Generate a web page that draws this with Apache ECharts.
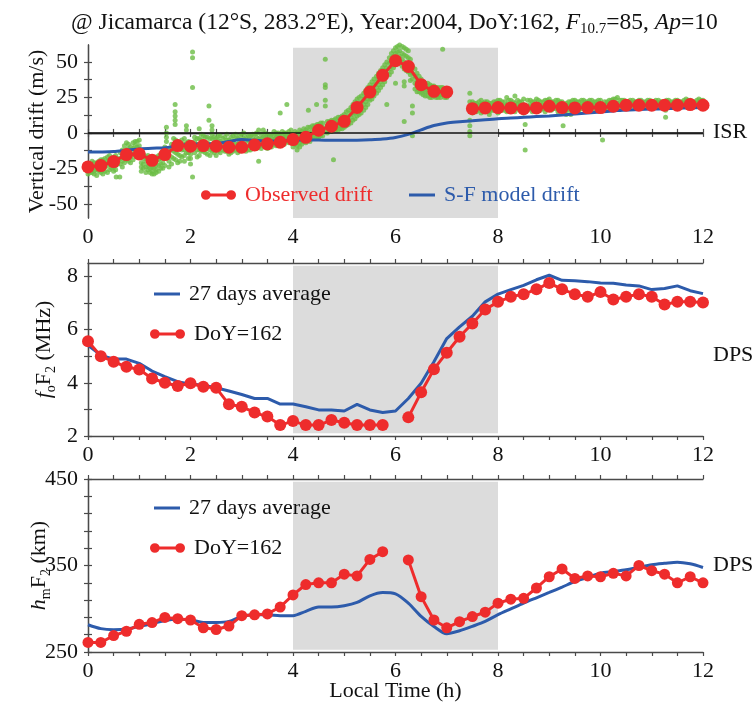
<!DOCTYPE html>
<html>
<head>
<meta charset="utf-8">
<title>Jicamarca drift and F2 layer, DoY 162, 2004</title>
<script src="https://cdn.jsdelivr.net/npm/echarts@6/dist/echarts.min.js"></script>
<style>
  html, body { margin: 0; padding: 0; background: #fff; }
  #chart { width: 755px; height: 708px; }
</style>
</head>
<body>
<div id="chart"></div>
<script>
// ---- local time grid (h), every 15 min ----
const hours = [0,0.25,0.5,0.75,1,1.25,1.5,1.75,2,2.25,2.5,2.75,3,3.25,3.5,3.75,4,4.25,4.5,4.75,5,5.25,5.5,5.75,6,6.25,6.5,6.75,7,7.25,7.5,7.75,8,8.25,8.5,8.75,9,9.25,9.5,9.75,10,10.25,10.5,10.75,11,11.25,11.5,11.75,12];

// ---- vertical drift (m/s) ----
const observedDrift = [-24,-23,-20.2,-15.3,-14.8,-19.3,-15.3,-8.9,-9.4,-8.9,-9.4,-10.1,-10.1,-8.5,-7.7,-6.6,-4.7,-3.1,1.9,4.7,8.2,18,28.8,40.6,50.9,46.9,34,29.3,28.9,null,17.1,17.6,17.9,17.6,17.1,17.6,18.8,17.9,17.6,17.9,17.9,18.8,19.5,19.5,19.5,19.5,19.5,20,19.5];
const modelDrift = [-13.5,-13.4,-13.1,-12.2,-11.3,-10.8,-10.5,-9,-8,-7.8,-7.5,-6,-4.6,-5.2,-5.8,-5.6,-5,-5,-5,-5.2,-5.2,-5.1,-4.8,-4.3,-3.2,-1,2.2,5.2,7,7.8,8.5,9.3,10,10.5,11,11.5,12,12.6,13.3,14,14.8,15.5,16.2,16.5,16.8,17.1,17.4,17.7,18];

// ISR drift samples: each row is [local time, drifts at the measured heights...]
const isrRows = [
  [0.00,-22,-25,-27,-29],[0.08,-20,-24,-26,-28],[0.17,-21,-23,-26,-30],[0.25,-19,-22,-25,-28],
  [0.33,-18,-21,-24,-27],[0.42,-16,-19,-22,-26],[0.50,-17,-20,-24,-27],[0.55,-31],[0.58,-18,-22],
  [0.62,-31],[0.67,-12,-16,-20,-24],[0.75,-7,-12,-15,-19],[0.83,-10,-14,-17,-21],[0.92,-6,-9,-13,-16],
  [1.00,-5,-9,-12,-17],[1.08,-15,-18,-22,-25],[1.17,-16,-19,-23,-26],[1.25,-18,-21,-24,-27,-29],
  [1.33,-17,-20,-23,-26,-28],[1.42,-15,-18,-22,-25],[1.50,-10,-14,-18,-23],[1.53,4,0,-3,-6],
  [1.58,-12,-16,-20,-24],[1.67,-4,-8,-13,-18],[1.70,20,15,12,9,6],[1.75,-6,-10,-15,-21],
  [1.83,-5,-9,-12,-17],[1.92,5,2,-7,-10,-14],[2.00,-8,-11,-15,-18,-22],[2.04,57,53,32,-31],
  [2.08,-3,-6,-10,-14],[2.17,3,-4,-8,-12,-16],[2.25,-2,-6,-9,-13],[2.33,-3,-7,-11,-15],[2.36,19,9],
  [2.42,5,2,-1,-4,-9,-13],[2.50,-4,-8,-12,-16],[2.58,-2,-6,-10,-14],[2.67,-3,-7,-11,-13],
  [2.75,-5,-9,-12,-15],[2.83,-2,-6,-10,-13],[2.92,-4,-8,-11,-14],[3.00,-1,-5,-9,-12],
  [3.08,-3,-6,-10,-13],[3.17,-2,-6,-9,-12],[3.25,-1,-5,-8,-11],[3.33,2,-4,-7,-10,-20],
  [3.42,2,-3,-6,-9],[3.50,-2,-5,-8,-11],[3.58,-1,-4,-7,-10],[3.67,0,-3,-6,-9],[3.75,14,-1,-4,-7],
  [3.83,0,-3,-5,-8],[3.88,20],[3.92,1,-2,-4,-7],[4.00,-1,-4,-7,-10],[4.08,0,-3,-6,-9,-12],
  [4.17,1,-2,-5,-8],[4.25,2,-1,-4,-7],[4.30,16],[4.33,4,0,-3,-6],[4.42,5,2,-1,-4],[4.46,20],
  [4.50,6,3,0,-3],[4.58,7,4,1,-2],[4.63,52,34,32,23,19],[4.67,8,5,2,0],[4.75,9,6,3,1],[4.79,-19],
  [4.83,10,7,4,2],[4.92,11,8,5,3],[5.00,13,10,7,4],[5.08,16,12,9,6],[5.17,20,16,13,9],
  [5.25,24,20,16,12],[5.33,26,22,18,14],[5.42,30,26,22,18],[5.50,34,30,27,23],[5.58,38,34,30,26],
  [5.67,42,38,34,30],[5.75,46,42,38,34],[5.83,50,46,42,20],[5.92,56,51,47,43],[6.00,60,56,52,48,35],
  [6.08,62,58,54,50],[6.17,60,55,50,45,36,33,8],[6.25,58,53,48,43],[6.33,47,42,38,19,14,-2],
  [6.42,42,37,33,29],[6.50,38,34,31,28],[6.58,35,32,29,26],[6.67,34,31,28,25],[6.75,33,30,28,26],
  [6.83,32,30,27,25],[6.92,32,29,27,59],[7.00,31,29,27,25],
  [7.45,28,22,9,5,1,-2],[7.50,22,19,16,14],[7.58,21,18,15],[7.67,23,20,17,14],[7.75,22,19,16],
  [7.83,21,18,15,13],[7.92,22,19,16],[8.00,23,20,17,14],[8.08,22,19,16],[8.17,25,20,17,15],
  [8.25,23,19,16],[8.33,26,21,18,15],[8.42,22,19,16],[8.50,24,20,17,14],[8.53,6,-12],
  [8.58,23,19,16],[8.67,22,19,17,15],[8.75,24,20,17],[8.83,22,19,16],[8.92,23,20,17,15],
  [9.00,24,20,18],[9.08,22,19,17],[9.17,23,20,17,15],[9.25,22,19,16],[9.27,5],[9.33,21,19,16,13],
  [9.42,22,20,17,13],[9.50,23,20,17],[9.58,22,19,16],[9.67,23,20,18],[9.75,22,19,17],
  [9.83,23,20,18],[9.92,22,19,17],[10.00,23,20,18,16],[10.04,-5],[10.08,22,19,17],[10.17,23,20,18],
  [10.25,24,21,18],[10.33,25,21,19,17],[10.42,23,20,18],[10.50,22,20,18],[10.58,23,21,19],
  [10.67,22,20,18],[10.75,23,21,19],[10.83,22,20,18],[10.92,23,21,19],[11.00,22,20,19],
  [11.08,23,21,19],[11.17,22,20,18],[11.27,16,11],[11.33,23,21,19],[11.42,22,20,19],
  [11.50,23,21,20],[11.58,22,21,19],[11.67,24,21,19],[11.75,23,21,20],[11.83,22,20,19],
  [11.92,24,21,19],[12.00,23,21,20],
  // in-between profiles
  [0.04,-23,-26,-28],[0.12,-21,-24,-27,-29],[0.21,-20,-23,-27],[0.29,-19,-22,-26,-29],
  [0.38,-17,-20,-23,-28],[0.46,-18,-21,-25],[0.54,-16,-19,-23,-26],[0.63,-14,-18,-22],
  [0.71,-9,-13,-17,-21],[0.79,-8,-11,-16,-20],[0.88,-7,-11,-15,-19],[0.96,-6,-10,-14],
  [1.04,-14,-17,-21,-24,-27],[1.13,-17,-20,-24,-28],[1.21,-19,-22,-25,-28],[1.29,-18,-22,-25,-29],
  [1.38,-16,-19,-23,-27],[1.46,-13,-17,-21,-25],[1.63,-8,-12,-17,-22],[1.71,-5,-9,-14,-19],
  [1.79,-7,-11,-16,-20],[1.88,-4,-8,-12,-16,-20],[1.96,-6,-10,-14,-18],[2.13,-4,-8,-12,-17],
  [2.21,-1,-5,-9,-13],[2.29,-3,-7,-11,-14],[2.38,-4,-8,-12,-16],[2.46,-3,-7,-11,-14],
  [2.54,-2,-5,-9,-13],[2.63,-4,-8,-12],[2.71,-1,-5,-9,-13],[2.79,-3,-7,-11,-14],
  [2.88,-1,-4,-8,-12],[2.96,-2,-6,-10,-13],[3.04,0,-4,-8,-11],[3.13,-2,-5,-9,-12],
  [3.21,-1,-4,-7,-10],[3.29,0,-3,-7,-11],[3.38,-1,-4,-8,-11],[3.46,0,-3,-7,-10],
  [3.54,-1,-4,-7,-9],[3.63,1,-2,-5,-8],[3.71,0,-3,-6,-9],[3.79,1,-2,-5,-8],[3.87,0,-3,-6],
  [3.96,2,-1,-4,-7],[4.04,1,-2,-5,-8],[4.13,2,-1,-4,-7,-10],[4.21,3,0,-3,-6],[4.29,4,1,-2,-5],
  [4.38,5,2,-1,-4],[4.47,6,3,0,-3],[4.54,7,4,1,-2],[4.71,8,5,2],[4.80,9,6,3],[4.88,11,8,5,2],
  [4.96,12,9,6,3],[5.04,15,11,8,5],[5.13,18,14,11,7],[5.21,22,18,14,10],[5.29,25,21,17,13],
  [5.38,28,24,20,16],[5.46,32,28,24,20],[5.54,36,32,28,24],[5.63,40,36,32,28],[5.71,44,40,36,32],
  [5.79,48,44,40,36],[5.88,53,49,45,41],[5.96,58,54,50,46],[6.04,61,57,53,49],[6.13,61,56,52,47],
  [6.21,59,54,49,44],[6.29,52,46,41,37],[6.38,45,40,35,31],[6.46,40,36,32,29],[6.54,36,33,30,27],
  [6.63,35,32,29,26],[6.71,33,30,27,25],[6.79,32,30,28,25],[6.88,32,29,27,25],[6.96,31,29,26,25],
  [7.54,21,18,15],[7.63,22,19,16],[7.71,21,18,15],[7.79,22,19,16],[7.88,21,18,16],[7.96,22,19,16],
  [8.04,23,19,16],[8.13,22,19,16],[8.21,23,19,16],[8.29,22,19,17],[8.38,23,20,17],[8.46,22,19,16],
  [8.63,23,20,17],[8.71,22,19,16],[8.79,23,20,17],[8.88,22,19,17],[8.96,23,20,17],[9.04,22,19,16],
  [9.13,23,20,17],[9.21,22,19,16],[9.38,22,19,16],[9.46,23,20,17],[9.54,22,19,17],[9.63,23,20,17],
  [9.71,22,19,17],[9.79,23,20,18],[9.88,22,20,17],[9.96,23,20,18],[10.13,22,20,17],[10.21,23,20,18],
  [10.29,24,21,18],[10.38,23,20,18],[10.46,23,21,18],[10.54,22,20,18],[10.63,23,21,19],[10.71,22,20,18],
  [10.79,23,21,19],[10.88,22,20,18],[10.96,23,21,19],[11.04,22,20,19],[11.13,23,21,19],[11.21,22,20,18],
  [11.29,23,21,19],[11.38,22,20,19],[11.46,23,21,20],[11.54,22,21,19],[11.63,23,21,19],[11.71,23,21,20],
  [11.79,22,20,19],[11.88,23,21,19],[11.96,23,21,20]
];

// ---- foF2 (MHz) ----
const foF2Day = [5.56,5.0,4.79,4.6,4.5,4.16,4.0,3.88,3.98,3.85,3.81,3.19,3.1,2.88,2.73,2.41,2.56,2.41,2.41,2.6,2.5,2.41,2.41,2.41,null,2.7,3.64,4.51,5.13,5.73,6.23,6.75,7.04,7.23,7.33,7.51,7.75,7.51,7.33,7.23,7.41,7.13,7.23,7.33,7.23,6.94,7.04,7.04,7.02];
const foF2Avg = [5.41,5.04,4.89,4.89,4.73,4.44,4.23,4.04,3.95,3.91,3.81,3.69,3.56,3.41,3.41,3.2,3.2,3.1,2.98,2.98,2.94,3.19,2.98,2.88,2.94,3.41,3.98,4.79,5.66,6.1,6.5,7.04,7.33,7.5,7.66,7.87,8.04,7.85,7.83,7.8,7.75,7.74,7.67,7.64,7.5,7.54,7.64,7.46,7.35];

// ---- hmF2 (km) ----
const hmF2Day = [261,261,269,274,282,284,290,288.5,287,278,276,280,292,293,294,302,316,328,330,330,340,338,357,366,null,356.5,314,287,278,285,291,296,306.5,311,312,324,337,346,335,338,337,341,338,350,344,340,330,337,330];
const hmF2Avg = [281.5,277,275.8,276.5,279.6,282.7,286.5,288,287.3,284.2,284.2,285.4,291.2,293.1,293.1,292,292,297,302,302,303.5,307.3,315,318.8,317.3,306.5,291.2,279.6,271.2,274.5,279.7,285.4,293.1,299.8,306.5,312.7,318.8,325,331.5,336.3,341.2,343,345,348,350.8,352.5,353.9,352,347.7];

// ---- axis ticks / labels ----
const timeLabels = [0,2,4,6,8,10,12];
const timeTicks = [0,0.5,1,1.5,2,2.5,3,3.5,4,4.5,5,5.5,6,6.5,7,7.5,8,8.5,9,9.5,10,10.5,11,11.5,12];
const driftLabels = [-50,-25,0,25,50];
const driftTicks = [-50,-37.5,-25,-12.5,0,12.5,25,37.5,50];
const foF2Labels = [2,4,6,8];
const foF2Ticks = [2,3,4,5,6,7,8];
const hmF2Labels = [250,350,450];
const hmF2Ticks = [250,270,290,310,330,350,370,390,410,430,450];

// shaded sunrise window (h)
const sunriseWindow = [4, 8];

// ---------------------------------------------------------------
const FONT = 'Liberation Serif';
const FS = 22;
const RED = '#ee2c2c';
const BLUE = '#2d5bab';
const GREEN = '#6cbd45';
const FRAME = '#4a4a4a';

const pairs = (xs, ys) => xs.map((x, i) => [x, ys[i] == null ? '-' : ys[i]]);
const isrPoints = [];
isrRows.forEach(row => row.slice(1).forEach(v => isrPoints.push([row[0], v])));

const richFor = size => ({
  i:   { fontFamily: FONT, fontSize: size, fontStyle: 'italic', lineHeight: 28 },
  sub: { fontFamily: FONT, fontSize: Math.round(size * 0.64), lineHeight: 14, verticalAlign: 'bottom' }
});

const grids = [
  { left: 88, right: 52, top: 45,  height: 173 },
  { left: 88, right: 52, top: 263, height: 173 },
  { left: 88, right: 52, top: 479, height: 173 }
];

const tickStyle = { show: true, inside: false, length: 4, lineStyle: { color: FRAME, width: 1.2 } };
const lineStyleFrame = { show: true, lineStyle: { color: FRAME, width: 1.3 } };

const xAxes = [];
grids.forEach((g, i) => {
  xAxes.push({
    type: 'value', gridIndex: i, min: 0, max: 12, position: 'bottom',
    axisLine: lineStyleFrame,
    axisTick: Object.assign({ customValues: timeTicks }, tickStyle),
    axisLabel: { customValues: timeLabels, fontFamily: FONT, fontSize: FS, color: '#111', margin: 8 },
    splitLine: { show: false },
    name: i === 2 ? 'Local Time (h)' : '',
    nameLocation: 'middle', nameGap: 28, nameMoveOverlap: false,
    nameTextStyle: { fontFamily: FONT, fontSize: FS, color: '#111' }
  });
  xAxes.push({
    type: 'value', gridIndex: i, min: 0, max: 12, position: 'top',
    axisLine: lineStyleFrame,
    axisTick: Object.assign({ customValues: timeTicks }, tickStyle),
    axisLabel: { show: false }, splitLine: { show: false }
  });
});

const yDefs = [
  { min: -60, max: 62, labels: driftLabels, ticks: driftTicks,
    name: 'Vertical drift (m/s)', gap: 37 },
  { min: 2, max: 8.5, labels: foF2Labels, ticks: foF2Ticks,
    name: '{i|f}{sub|o}F{sub|2} (MHz)', gap: 30 },
  { min: 250, max: 450, labels: hmF2Labels, ticks: hmF2Ticks,
    name: '{i|h}{sub|m}F{sub|2} (km)', gap: 35 }
];
const yAxes = [];
yDefs.forEach((d, i) => {
  yAxes.push({
    type: 'value', gridIndex: i, min: d.min, max: d.max, position: 'left',
    axisLine: lineStyleFrame,
    axisTick: Object.assign({ customValues: d.ticks }, tickStyle),
    axisLabel: { customValues: d.labels, fontFamily: FONT, fontSize: FS, color: '#111', margin: 10 },
    splitLine: { show: false },
    name: d.name, nameLocation: 'middle', nameRotate: 90, nameGap: d.gap, nameMoveOverlap: false,
    nameTextStyle: { fontFamily: FONT, fontSize: FS, color: '#111', lineHeight: 28, rich: richFor(FS) }
  });
  yAxes.push({
    type: 'value', gridIndex: i, min: d.min, max: d.max, position: 'right',
    axisLine: lineStyleFrame,
    axisTick: Object.assign({ customValues: d.ticks }, tickStyle),
    axisLabel: { show: false }, splitLine: { show: false }
  });
});

// shading bounds in each panel's own units
const shadeY = [[-60, 60], [2.1, 8.4], [252.7, 446.9]];
const shadeSeries = shadeY.map((b, i) => ({
  type: 'line', xAxisIndex: 2 * i, yAxisIndex: 2 * i, data: [], silent: true, z: 1,
  markArea: {
    silent: true,
    itemStyle: { color: '#dcdcdc' },
    data: [[{ xAxis: sunriseWindow[0], yAxis: b[0] }, { xAxis: sunriseWindow[1], yAxis: b[1] }]]
  }
}));

const redLine = (name, xi, yi, data, size) => ({
  name: name, type: 'line', xAxisIndex: xi, yAxisIndex: yi, data: data,
  connectNulls: false, symbol: 'circle', symbolSize: size, showSymbol: true,
  lineStyle: { color: RED, width: 3 }, itemStyle: { color: RED }, z: 5, clip: true
});
const blueLine = (name, xi, yi, data, smooth) => ({
  name: name, type: 'line', xAxisIndex: xi, yAxisIndex: yi, data: data,
  showSymbol: false, smooth: smooth, lineStyle: { color: BLUE, width: 3 },
  itemStyle: { color: BLUE }, z: 4
});

const series = shadeSeries.concat([
  {
    name: 'ISR', type: 'scatter', xAxisIndex: 0, yAxisIndex: 0, data: isrPoints,
    symbolSize: 5, itemStyle: { color: GREEN }, z: 3,
    markLine: {
      silent: true, symbol: 'none', label: { show: false },
      lineStyle: { color: '#111', width: 1.5, type: 'solid' },
      data: [{ yAxis: 0 }]
    }
  },
  blueLine('S-F model drift', 0, 0, pairs(hours, modelDrift), 0.3),
  redLine('Observed drift', 0, 0, pairs(hours, observedDrift), 13),
  blueLine('27 days average', 2, 2, pairs(hours, foF2Avg), false),
  redLine('DoY=162', 2, 2, pairs(hours, foF2Day), 12),
  blueLine('27 days average', 4, 4, pairs(hours, hmF2Avg), 0.3),
  redLine('DoY=162', 4, 4, pairs(hours, hmF2Day), 11)
]);

// dumbbell icon: line with a dot at each end
const dumbbell = 'path://M0,5A5,5,0,1,1,10,5A5,5,0,1,1,0,5Z M26,5A5,5,0,1,1,36,5A5,5,0,1,1,26,5Z M5,3.5H31V6.5H5Z';
const legendItem = (name, left, top, icon, w, h, color) => ({
  left: left, top: top, orient: 'horizontal', selectedMode: false,
  data: [name], icon: icon, itemWidth: w, itemHeight: h, itemGap: 0,
  textStyle: { fontFamily: FONT, fontSize: FS, color: color, padding: [0, 0, 0, 4] }
});

const option = {
  backgroundColor: '#fff',
  animation: false,
  title: {
    text: '@ Jicamarca (12°S, 283.2°E), Year:2004, DoY:162, {i|F}{sub|10.7}=85, {i|Ap}=10',
    left: 66, top: 4,
    textStyle: { fontFamily: FONT, fontSize: 23.5, fontWeight: 'normal', color: '#111', lineHeight: 28, rich: richFor(23.5) }
  },
  grid: grids,
  xAxis: xAxes,
  yAxis: yAxes,
  legend: [
    legendItem('Observed drift', 196, 179, dumbbell, 35, 10, RED),
    legendItem('S-F model drift', 404, 179, 'rect', 26, 3, BLUE),
    legendItem('27 days average', 149, 278, 'rect', 26, 3, '#111'),
    legendItem('DoY=162', 145, 318, dumbbell, 35, 10, '#111'),
    legendItem('27 days average', 149, 492, 'rect', 26, 3, '#111'),
    legendItem('DoY=162', 145, 532, dumbbell, 35, 10, '#111')
  ],
  graphic: [
    { type: 'text', left: 713, top: 121, style: { text: 'ISR', font: FS + 'px "Liberation Serif"', fill: '#111' } },
    { type: 'text', left: 713, top: 344, style: { text: 'DPS', font: FS + 'px "Liberation Serif"', fill: '#111' } },
    { type: 'text', left: 713, top: 554, style: { text: 'DPS', font: FS + 'px "Liberation Serif"', fill: '#111' } }
  ],
  series: series
};

const chart = echarts.init(document.getElementById('chart'), null, { renderer: 'canvas' });
chart.setOption(option);
</script>
</body>
</html>
